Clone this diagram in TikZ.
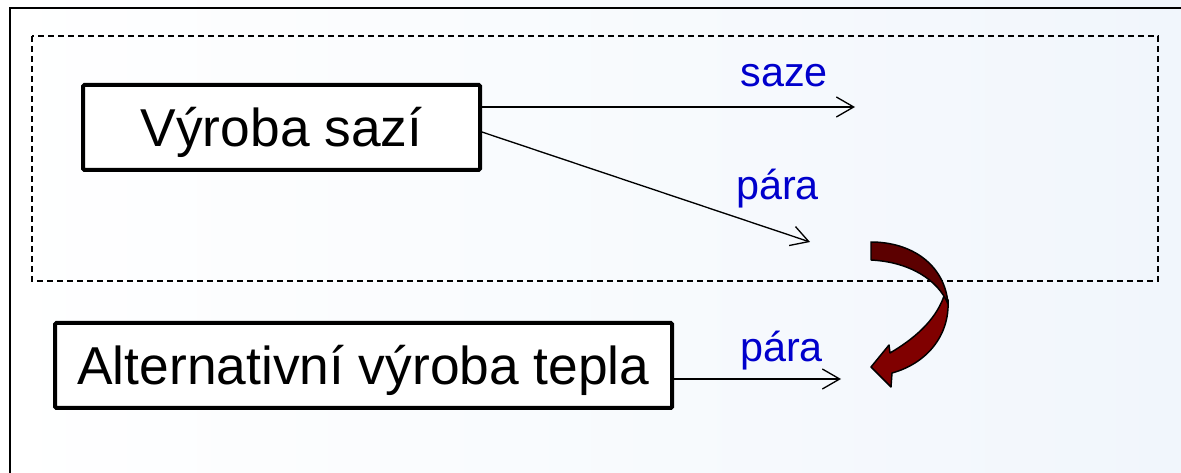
\documentclass[tikz,border=0pt]{standalone}
\usepackage{fontspec}
\setmainfont{Liberation Sans}
\usetikzlibrary{arrows.meta}
\definecolor{lblblue}{RGB}{0,0,204}
\definecolor{bgblue}{RGB}{241,246,252}
\definecolor{arrdark}{RGB}{92,0,0}
\definecolor{arrlight}{RGB}{128,0,0}
\tikzset{
  procbox/.style={draw=black, line width=3pt, fill=white, rounded corners=1pt,
    font=\fontsize{40}{48}\selectfont, text height=28.6pt, text depth=0pt,
    minimum height=63.75pt, inner sep=0pt},
  flowlbl/.style={font=\fontsize{31}{37}\selectfont, text=lblblue, anchor=base, inner sep=0pt},
  flowarr/.style={line width=1pt, -{Straight Barb[length=13pt,width=15pt,line width=1pt]}},
  turnarr/.style={draw=black, line width=1.1pt, line join=round}
}
\begin{document}
\begin{tikzpicture}[x=0.75pt,y=-0.75pt]
  \useasboundingbox (0,0) rectangle (1181,473);
  \shade[left color=white, right color=bgblue] (0,0) rectangle (1181,473);
  % outer frame (left and top)
  \draw[line width=1.5pt] (10,473) -- (10,8) -- (1181,8);
  % dashed group
  \draw[line width=1.1pt, dash pattern=on 4.5pt off 3pt] (32,36) rectangle (1158,281);
  % boxes
  \node[procbox, minimum width=297.75pt] (vyroba) at (281.5,127.5) {Výroba sazí};
  \node[procbox, minimum width=462.75pt] (alt) at (363.5,365.5) {Alternativní výroba tepla};
  % arrow endpoints
  \coordinate (s1) at (855,107);
  \coordinate (p1) at (810,242);
  \coordinate (p2) at (841,379);
  \draw[flowarr] (vyroba.east |- s1) -- (s1);
  \draw[flowarr] ([yshift=-3.4pt]vyroba.east) -- (p1);
  \draw[flowarr] (alt.east |- p2) -- (p2);
  % labels
  \node[flowlbl] (lsaze) at (784,87) {saze};
  \node[flowlbl] (lpara1) at (777.5,200) {pára};
  \node[flowlbl] (lpara2) at (781.5,362) {pára};
  % curved block arrow
  \filldraw[turnarr, fill=arrlight]
    (948,300) .. controls (950,337) and (925,364) .. (892,373)
    -- (891,387) -- (871,367) -- (889,345) -- (890,353)
    .. controls (912,340) and (935,322) .. (944,296) -- cycle;
  \filldraw[turnarr, fill=arrdark]
    (871,242) .. controls (912,242) and (945,265) .. (948,304)
    .. controls (938,280) and (910,262) .. (871,260) -- cycle;
\end{tikzpicture}
\end{document}
